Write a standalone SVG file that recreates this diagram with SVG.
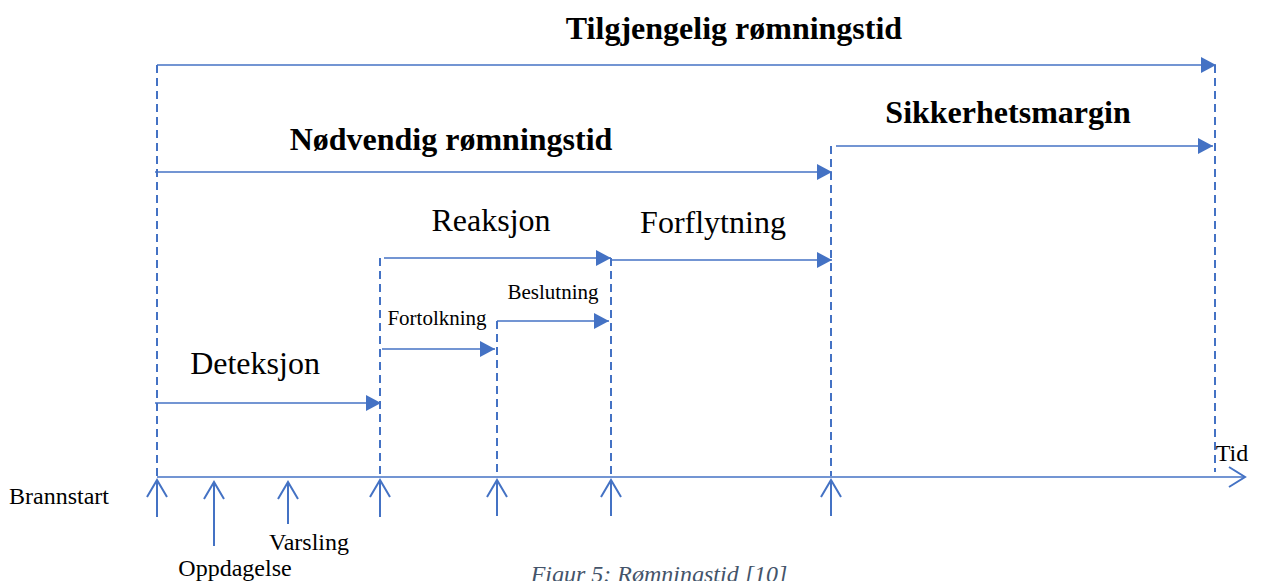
<svg xmlns="http://www.w3.org/2000/svg" width="1283" height="581" viewBox="0 0 1283 581">
<style>
.ln{stroke:#4472C4;stroke-width:1.6;fill:none}
.dash{stroke:#4472C4;stroke-width:2;fill:none;stroke-dasharray:8 5}
.tick{stroke:#4472C4;stroke-width:2;fill:none}
.t{font-family:"Liberation Serif","Times New Roman",serif;fill:#000}
.b{font-weight:bold;font-size:32px}
.big{font-size:32px}
.sm{font-size:21px}
.lab{font-size:24px}
.cap{font-family:"Liberation Serif","Times New Roman",serif;font-style:italic;font-size:24px;fill:#44546A}
</style>
<defs>
<marker id="ah" markerUnits="userSpaceOnUse" markerWidth="16" markerHeight="16" refX="15" refY="8" orient="auto">
<path d="M0,0 L15,8 L0,16 z" fill="#4472C4"/>
</marker>
<marker id="oa" markerUnits="userSpaceOnUse" markerWidth="20" markerHeight="26" refX="17" refY="11" orient="auto">
<path d="M1,1 L17,11 L1,21" fill="none" stroke="#4472C4" stroke-width="2"/>
</marker>
</defs>
<rect width="1283" height="581" fill="#fff"/>
<g id="guides">
<line class="dash" x1="157" y1="65" x2="157" y2="476"/>
<line class="dash" x1="380" y1="258" x2="380" y2="476"/>
<line class="dash" x1="497" y1="321" x2="497" y2="476"/>
<line class="dash" x1="611" y1="258" x2="611" y2="476"/>
<line class="dash" x1="831" y1="146" x2="831" y2="476"/>
<line class="dash" x1="1215" y1="65" x2="1215" y2="472"/>
</g>
<g id="connectors">
<line class="ln" x1="157" y1="65" x2="1216" y2="65" marker-end="url(#ah)"/>
<line class="ln" x1="155" y1="172" x2="832" y2="172" marker-end="url(#ah)"/>
<line class="ln" x1="836" y1="146" x2="1213" y2="146" marker-end="url(#ah)"/>
<line class="ln" x1="384" y1="258" x2="611" y2="258" marker-end="url(#ah)"/>
<line class="ln" x1="611" y1="260" x2="832" y2="260" marker-end="url(#ah)"/>
<line class="ln" x1="382" y1="349" x2="495" y2="349" marker-end="url(#ah)"/>
<line class="ln" x1="497" y1="321" x2="609" y2="321" marker-end="url(#ah)"/>
<line class="ln" x1="155" y1="403" x2="381" y2="403" marker-end="url(#ah)"/>
</g>
<g id="axis">
<line class="ln" x1="157" y1="477" x2="1245" y2="477" stroke-width="2" marker-end="url(#oa)"/>
<g class="tick">
<path d="M157,517 V480 M147,497 L157,480 L167,497"/>
<path d="M214,546 V482 M204,499 L214,482 L224,499"/>
<path d="M288,524 V482 M278,499 L288,482 L298,499"/>
<path d="M380,517 V480 M370,497 L380,480 L390,497"/>
<path d="M497,516 V480 M487,497 L497,480 L507,497"/>
<path d="M611,516 V480 M601,497 L611,480 L621,497"/>
<path d="M831,516 V480 M821,497 L831,480 L841,497"/>
</g>
</g>
<g id="n-tilgjengelig"><text class="t b" x="734" y="39" text-anchor="middle">Tilgjengelig rømningstid</text></g>
<g id="n-nodvendig"><text class="t b" x="451" y="150" text-anchor="middle">Nødvendig rømningstid</text></g>
<g id="n-sikkerhet"><text class="t b" x="1008" y="123" text-anchor="middle">Sikkerhetsmargin</text></g>
<g id="n-reaksjon"><text class="t big" x="491" y="231" text-anchor="middle">Reaksjon</text></g>
<g id="n-forflytning"><text class="t big" x="713" y="233" text-anchor="middle">Forflytning</text></g>
<g id="n-deteksjon"><text class="t big" x="255" y="374" text-anchor="middle">Deteksjon</text></g>
<g id="n-fortolkning"><text class="t sm" x="437" y="325" text-anchor="middle">Fortolkning</text></g>
<g id="n-beslutning"><text class="t sm" x="553" y="299" text-anchor="middle">Beslutning</text></g>
<g id="n-brannstart"><text class="t lab" x="59" y="504" text-anchor="middle">Brannstart</text></g>
<g id="n-oppdagelse"><text class="t lab" x="235" y="576" text-anchor="middle">Oppdagelse</text></g>
<g id="n-varsling"><text class="t lab" x="309" y="550" text-anchor="middle">Varsling</text></g>
<g id="n-tid"><text class="t lab" x="1232" y="461" text-anchor="middle">Tid</text></g>
<g id="caption"><text class="cap" x="659" y="582" text-anchor="middle">Figur 5: Rømningstid [10]</text></g>
</svg>
